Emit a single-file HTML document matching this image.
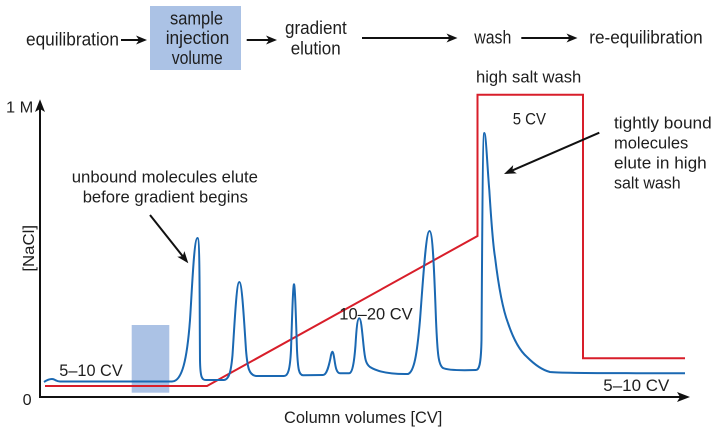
<!DOCTYPE html>
<html>
<head>
<meta charset="utf-8">
<style>
  html,body{margin:0;padding:0;background:#fff;}
  svg{display:block;}
  text{font-family:"Liberation Sans",sans-serif;fill:#1e1e1e;}
</style>
</head>
<body>
<svg width="717" height="430" viewBox="0 0 717 430" xmlns="http://www.w3.org/2000/svg">
  <rect width="717" height="430" fill="#fff"/>

  <!-- Top flow row -->
  <rect x="150" y="6" width="91" height="64" fill="#abc2e5"/>
  <g font-size="18">
    <text x="26" y="45.5" textLength="93" lengthAdjust="spacingAndGlyphs">equilibration</text>
    <text x="170" y="24.5" textLength="53" lengthAdjust="spacingAndGlyphs">sample</text>
    <text x="165.7" y="44" textLength="63.6" lengthAdjust="spacingAndGlyphs">injection</text>
    <text x="171.7" y="64" textLength="51" lengthAdjust="spacingAndGlyphs">volume</text>
    <text x="285" y="34" textLength="61.7" lengthAdjust="spacingAndGlyphs">gradient</text>
    <text x="290.7" y="54.5" textLength="50" lengthAdjust="spacingAndGlyphs">elution</text>
    <text x="474.3" y="43.5" textLength="37" lengthAdjust="spacingAndGlyphs">wash</text>
    <text x="589.3" y="43.5" textLength="113.4" lengthAdjust="spacingAndGlyphs">re-equilibration</text>
  </g>
  <g stroke="#111" stroke-width="2" fill="none">
    <line x1="121" y1="40" x2="141" y2="40"/>
    <line x1="246.7" y1="40" x2="271" y2="40"/>
    <line x1="362" y1="38" x2="451" y2="38"/>
    <line x1="521.3" y1="38" x2="571" y2="38"/>
  </g>
  <g fill="#111">
    <polygon points="147,40 136,35.5 139,40 136,44.5"/>
    <polygon points="277,40 266,35.5 269,40 266,44.5"/>
    <polygon points="457.5,38 446.5,33.5 449.5,38 446.5,42.5"/>
    <polygon points="577.5,38 566.5,33.5 569.5,38 566.5,42.5"/>
  </g>

  <!-- injection shaded block -->
  <rect x="131.7" y="325" width="37.6" height="67.7" fill="#abc2e5"/>

  <!-- Axes -->
  <g stroke="#111" stroke-width="2" fill="none">
    <line x1="40" y1="108" x2="40" y2="398"/>
    <line x1="39" y1="397" x2="681" y2="397"/>
  </g>
  <g fill="#111">
    <polygon points="40,99.3 35,112 40,109 45,112"/>
    <polygon points="690,397 677,392 680,397 677,402"/>
  </g>

  <!-- Red salt concentration line -->
  <path d="M45,386 L207,386 L477.5,236 L477.5,94.7 L583,94.7 L583,358.3 L685,358.3"
        fill="none" stroke="#d81e2a" stroke-width="2" stroke-linejoin="miter"/>

  <!-- Blue chromatogram -->
  <path fill="none" stroke="#1a68b2" stroke-width="2" stroke-linejoin="round" d="
    M44,382 C47,380 50,379 52,379 C55,379 56,381.5 60,381.5
    L172,381.5
    C182,381.5 187,360 190,320 C192,290 194,238 197.5,238
    C200,238 199.5,300 200,360 C200.3,378 202,380 206,380
    L224,380
    C229,379.5 231,372 232.5,355 C234.5,325 236.5,282 239.3,282
    C242,282 244,320 246,350 C247.5,368 249,375 256,376
    L284,376
    C288,376 290,370 291,350 C292,320 293,284.3 294,284.3
    C295,284.3 296,320 297,350 C298,370 299,375 303,375.3
    L323,375
    C327,375 329,365 330.5,358 C331.2,353 331.8,351.7 332.3,351.7
    C333,351.7 333.6,354 334.5,360 C335.5,367 336.5,373 340,373.3
    L349,373.3
    C352,373.3 354,365 355.5,345 C356.5,328 357.5,318.3 359.3,318.3
    C361,318.3 362,330 363.5,345 C365,360 366,364 370,367
    C378,372 392,374.3 408,374
    C414,372 417,355 420,320 C423,280 426,231 429.5,231
    C433,231 434.5,280 436,320 C437.5,355 438.5,365 443,368
    C447,370 460,370.5 476,370
    C479,370 481,365 481.5,340 C482,280 482.5,133 484.3,133
    C486,133 487.5,170 489.3,190 C491.5,225 493,245 495,257
    C499,290 503,310 508,323 C513,338 519,350 527,357
    C535,365 542,370 550,372 C565,373.5 600,373 685,373.3"/>

  <!-- Axis labels -->
  <text x="6" y="112.5" font-size="16" textLength="27.3" lengthAdjust="spacingAndGlyphs">1 M</text>
  <text x="22.7" y="405" font-size="16" textLength="9" lengthAdjust="spacingAndGlyphs">0</text>
  <text transform="translate(34,248.3) rotate(-90)" font-size="16" text-anchor="middle" textLength="46.7" lengthAdjust="spacingAndGlyphs">[NaCl]</text>
  <text x="284" y="423" font-size="17" textLength="158.3" lengthAdjust="spacingAndGlyphs">Column volumes [CV]</text>

  <!-- Annotations -->
  <text x="71.7" y="182.5" font-size="17" textLength="186.3" lengthAdjust="spacingAndGlyphs">unbound molecules elute</text>
  <text x="82.7" y="202.5" font-size="17" textLength="165.3" lengthAdjust="spacingAndGlyphs">before gradient begins</text>
  <text x="59.3" y="376" font-size="17" textLength="63.4" lengthAdjust="spacingAndGlyphs">5–10 CV</text>
  <text x="339.3" y="319.5" font-size="17" textLength="73.4" lengthAdjust="spacingAndGlyphs">10–20 CV</text>
  <text x="476" y="82.5" font-size="17" textLength="105.3" lengthAdjust="spacingAndGlyphs">high salt wash</text>
  <text x="512.7" y="124.5" font-size="17" textLength="33.3" lengthAdjust="spacingAndGlyphs">5 CV</text>
  <text x="614" y="128.5" font-size="17" textLength="97.7" lengthAdjust="spacingAndGlyphs">tightly bound</text>
  <text x="614" y="148.5" font-size="17" textLength="74.3" lengthAdjust="spacingAndGlyphs">molecules</text>
  <text x="614" y="168.5" font-size="17" textLength="92.7" lengthAdjust="spacingAndGlyphs">elute in high</text>
  <text x="614" y="188.5" font-size="17" textLength="66.7" lengthAdjust="spacingAndGlyphs">salt wash</text>
  <text x="603.3" y="391" font-size="17" textLength="66" lengthAdjust="spacingAndGlyphs">5–10 CV</text>

  <!-- Annotation arrows -->
  <g stroke="#111" stroke-width="2" fill="none">
    <line x1="150" y1="215" x2="182.7" y2="256.2"/>
    <line x1="599.3" y1="132.7" x2="512.3" y2="170.4"/>
  </g>
  <g fill="#111">
    <polygon points="188.3,263.3 177.3,256.7 182.7,256.2 184.4,251.1"/>
    <polygon points="504,174 513.2,165.1 512.3,170.4 516.8,173.4"/>
  </g>
</svg>
</body>
</html>
